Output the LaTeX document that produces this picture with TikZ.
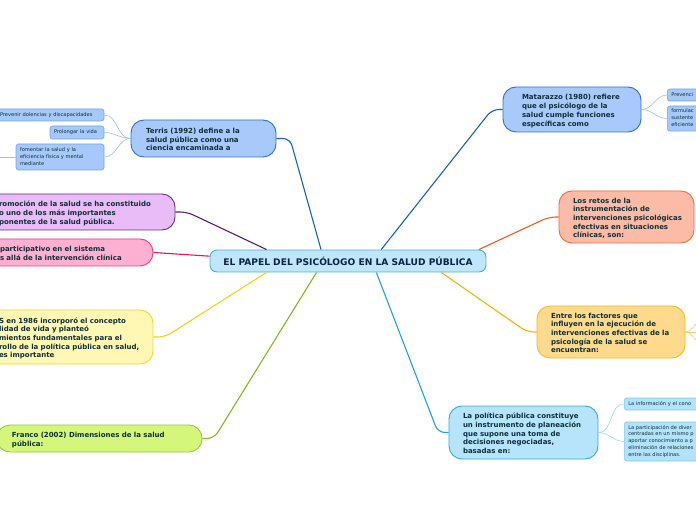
\documentclass[tikz,border=0pt]{standalone}
\usepackage{fontspec}
\setmainfont{DejaVu Sans}
\definecolor{txt}{HTML}{0E2F38}
\definecolor{ctxt}{HTML}{0B2440}
\definecolor{cfill}{HTML}{BFE6FA}
\definecolor{cdraw}{HTML}{45B0E6}
\definecolor{bfill}{HTML}{A9C9FB}
\definecolor{bdraw}{HTML}{2A6FDB}
\definecolor{bline}{HTML}{1A5ED0}
\definecolor{sfill}{HTML}{A6C8FA}
\definecolor{sdraw}{HTML}{6FA5EF}
\definecolor{sline}{HTML}{9BBFF3}
\definecolor{pfill}{HTML}{E9BBF7}
\definecolor{pdraw}{HTML}{6B2D84}
\definecolor{pline}{HTML}{5A1F6E}
\definecolor{kfill}{HTML}{FDB0D0}
\definecolor{kdraw}{HTML}{EE3B80}
\definecolor{kline}{HTML}{E8125F}
\definecolor{yfill}{HTML}{FFF8B5}
\definecolor{ydraw}{HTML}{EFD637}
\definecolor{yline}{HTML}{F2D615}
\definecolor{gfill}{HTML}{D4F77B}
\definecolor{gdraw}{HTML}{94C93D}
\definecolor{gline}{HTML}{86B81B}
\definecolor{rfill}{HTML}{FBBBA6}
\definecolor{rdraw}{HTML}{F26B3A}
\definecolor{rline}{HTML}{F05A24}
\definecolor{ffill}{HTML}{FFD98C}
\definecolor{fdraw}{HTML}{F6B824}
\definecolor{fline}{HTML}{F7B500}
\definecolor{flight}{HTML}{F8CC6A}
\definecolor{lfill}{HTML}{B5E4FB}
\definecolor{ldraw}{HTML}{35A9E1}
\definecolor{lline}{HTML}{1AA3E8}
\definecolor{lsfill}{HTML}{B3E2FB}
\definecolor{lsdraw}{HTML}{7FCAF0}
\definecolor{lsline}{HTML}{9AD6F5}
\newcommand\txtlines[1]{\begin{tabular}{@{}l@{}}#1\end{tabular}}
\newcommand\toplines[1]{\raisebox{-1.8pt}[\height][\depth]{\begin{tabular}{@{}l@{}}#1\end{tabular}}}
\tikzset{
  topic/.style={rounded corners=13pt, line width=0.9pt, text=txt, align=left,
    font=\bfseries\fontsize{7}{8.7}\selectfont, inner ysep=0pt},
  subnode/.style={rounded corners=2.5pt, line width=0.6pt, text=txt, align=left,
    font=\fontsize{5.1}{6.9}\selectfont, inner ysep=0pt, inner xsep=4pt},
  conn/.style={line width=1.1pt, rounded corners=7pt},
  subconn/.style={line width=0.6pt},
}
\begin{document}
\begin{tikzpicture}[x=1pt,y=1pt]
\useasboundingbox (0,0) rectangle (696,520);
\fill[white] (0,0) rectangle (696,520);
\clip (0,0) rectangle (696,520);

% central
\node[rounded corners=7pt, line width=0.9pt, fill=cfill, draw=cdraw, text=ctxt,
  font=\bfseries\fontsize{9.1}{10}\selectfont, minimum width=276pt, minimum height=22pt,
  inner sep=0pt] (c) at (348,259) {EL PAPEL DEL PSICÓLOGO EN LA SALUD PÚBLICA};

% left topics
\node[topic, fill=bfill, draw=bdraw, text width=115pt, inner xsep=15pt, minimum height=37pt]
  (t) at (203.5,381.5) {\toplines{Terris (1992) define a la\\salud pública como una\\ciencia encaminada a}};
\node[topic, fill=pfill, draw=pdraw, text width=147pt, inner xsep=29pt, minimum height=36pt]
  (p) at (72.5,308) {\toplines{romoción de la salud se ha constituido\\o uno de los más importantes\\ponentes de la salud pública.}};
\node[topic, fill=kfill, draw=kdraw, text width=123pt, inner xsep=30pt, minimum height=27pt]
  (k) at (61.5,267.5) {\toplines{participativo en el sistema\\s allá de la intervención clínica}};
\node[topic, fill=yfill, draw=ydraw, text width=125pt, inner xsep=29pt, minimum height=54pt]
  (y) at (61.5,183) {\toplines{S en 1986 incorporó el concepto\\lidad de vida y planteó\\mientos fundamentales para el\\rollo de la política pública en salud,\\es importante}};
\node[topic, fill=gfill, draw=gdraw, text width=175pt, inner xsep=15pt, minimum height=27pt]
  (g) at (99.5,81.5) {\toplines{Franco (2002) Dimensiones de la salud\\pública:}};

% right topics
\node[topic, fill=bfill, draw=bdraw, text width=100pt, inner xsep=19pt, minimum height=45pt]
  (m) at (572,410.5) {\toplines{Matarazzo (1980) refiere\\que el psicólogo de la\\salud cumple funciones\\específicas como}};
\node[topic, fill=rfill, draw=rdraw, text width=107pt, inner xsep=14pt, minimum height=52pt]
  (r) at (626.5,303) {\toplines{Los retos de la\\instrumentación de\\intervenciones psicológicas\\efectivas en situaciones\\clínicas, son:}};
\node[topic, fill=ffill, draw=fdraw, text width=120pt, inner xsep=14pt, minimum height=52pt]
  (f) at (611,188) {\toplines{Entre los factores que\\influyen en la ejecución de\\intervenciones efectivas de la\\psicología de la salud se\\encuentran:}};
\node[topic, fill=lfill, draw=ldraw, text width=121pt, inner xsep=14pt, minimum height=53pt]
  (pp) at (523.5,87.5) {\toplines{La política pública constituye\\un instrumento de planeación\\que supone una toma de\\decisiones negociadas,\\basadas en:}};

% Terris subtopics
\node[subnode, fill=sfill, draw=sdraw, text width=100pt, minimum height=12pt]
  (s1) at (50,405) {\txtlines{Prevenir dolencias y discapacidades}};
\node[subnode, fill=sfill, draw=sdraw, text width=46pt, minimum height=13pt]
  (s2) at (77,387.5) {\txtlines{Prolongar la vida}};
\node[subnode, fill=sfill, draw=sdraw, text width=80pt, minimum height=26pt]
  (s3) at (60,363) {\txtlines{fomentar la salud y la\\eficiencia física y mental\\mediante}};
\coordinate (sl) at (-5,363);

% Matarazzo subtopics
\node[subnode, fill=sfill, draw=sdraw, text width=52pt, minimum height=12pt, anchor=west]
  (ms1) at (667,425) {\txtlines{Prevenci}};
\node[subnode, fill=sfill, draw=sdraw, text width=52pt, minimum height=25pt, anchor=west]
  (ms2) at (667,401.5) {\txtlines{formulac\\sustente\\eficiente}};

% Politica subtopics
\node[subnode, fill=lsfill, draw=lsdraw, text width=92pt, minimum height=12pt, anchor=west]
  (ps1) at (624,116) {\txtlines{La información y el cono}};
\node[subnode, fill=lsfill, draw=lsdraw, text width=92pt, minimum height=39pt, anchor=west]
  (ps2) at (624,78.5) {\txtlines{La participación de diver\\centradas en un mismo p\\aportar conocimiento a p\\eliminación de relaciones\\entre las disciplinas.}};

% Factores children (off the page)
\coordinate (fa1) at (702,199);
\coordinate (fa2) at (702,188);
\coordinate (fa3) at (702,177);

% main connectors
\draw[conn, bline] (c.157) -- (290,381.5) -- (t.east);
\draw[conn, pline] (c.172.6) -- (187,308) -- (p.east);
\draw[conn, kline] (c.178.3) -- (k.east);
\draw[conn, yline] (c.188) -- (165,183) -- (y.east);
\draw[conn, gline] (c.200) -- (214,81.5) -- (g.east);
\draw[conn, bline] (c.19) -- (492,410.5) -- (m.west);
\draw[conn, rline] (c.5.6) -- (549,303) -- (r.west);
\draw[conn, fline] (c.353.5) -- (527,188) -- (f.west);
\draw[conn, lline] (c.338.6) -- (438,87.5) -- (pp.west);

% sub connectors
\draw[subconn, sline] (t.west) to[out=180,in=0] (s1.east);
\draw[subconn, sline] (t.west) to[out=180,in=0] (s2.east);
\draw[subconn, sline] (t.west) to[out=180,in=0] (s3.east);
\draw[subconn, sline] (s3.west) -- (sl);
\draw[subconn, sline] (m.east) to[out=0,in=180] (ms1.west);
\draw[subconn, sline] (m.east) to[out=0,in=180] (ms2.west);
\draw[subconn, lsline] (pp.east) to[out=0,in=180] (ps1.west);
\draw[subconn, lsline] (pp.east) to[out=0,in=180] (ps2.west);
\draw[subconn, flight] (f.east) to[out=0,in=180] (fa1);
\draw[subconn, flight] (f.east) -- (fa2);
\draw[subconn, flight] (f.east) to[out=0,in=180] (fa3);
\end{tikzpicture}
\end{document}
